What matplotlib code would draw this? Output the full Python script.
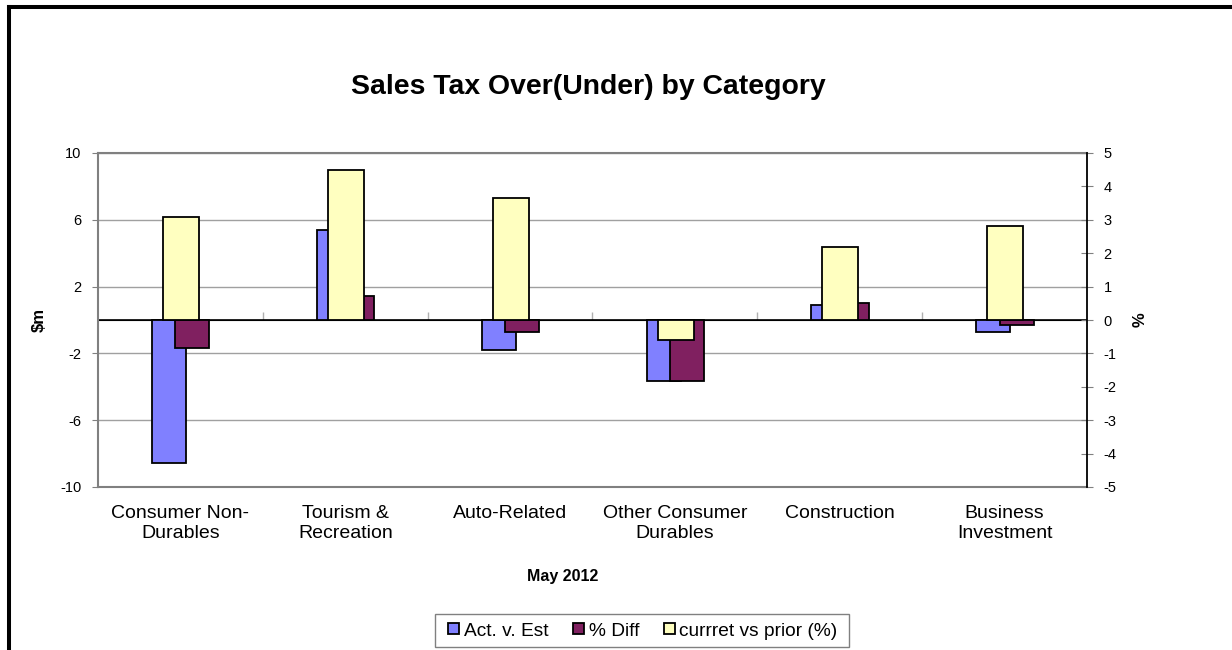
import numpy as np
import matplotlib
matplotlib.use("Agg")
import matplotlib.pyplot as plt
from matplotlib.lines import Line2D
from matplotlib.patches import Rectangle

plt.rcParams['font.family'] = ['Liberation Sans', 'DejaVu Sans']
plt.rcParams['axes.unicode_minus'] = False

categories = ["Consumer Non-\nDurables", "Tourism &\nRecreation", "Auto-Related",
              "Other Consumer\nDurables", "Construction", "Business\nInvestment"]
act_v_est = [-8.55, 5.37, -1.79, -3.63, 0.89, -0.73]      # $m (left axis)
pct_diff = [-1.70, 1.45, -0.73, -3.67, 1.03, -0.27]       # plotted on left axis
curr_vs_prior = [3.08, 4.49, 3.64, -0.60, 2.18, 2.82]     # % (right axis)
series_names = ["Act. v. Est", "% Diff", "currret vs prior (%)"]
left_ticks = [-10, -6, -2, 2, 6, 10]
right_ticks = list(range(-5, 6))

W, H = 1232, 650
fig = plt.figure(figsize=(W / 100, H / 100), dpi=100)

c_blue = '#8080FF'
c_purple = '#802060'
c_yellow = '#FFFFC0'
gray = '#808080'

ax = fig.add_axes([98 / W, 1 - 487 / H, (1087 - 98) / W, (487 - 153) / H])
x = np.arange(len(categories))

ax.bar(x - 0.069, act_v_est, width=0.206, color=c_blue, edgecolor='black',
       linewidth=1.3, zorder=2, label=series_names[0])
ax.bar(x + 0.073, pct_diff, width=0.206, color=c_purple, edgecolor='black',
       linewidth=1.3, zorder=3, label=series_names[1])
ax.set_ylim(-10, 10)
ax.set_xlim(-0.5, len(categories) - 0.5)
ax.set_yticks(left_ticks)
ax.yaxis.grid(True, color='#A0A0A0', linewidth=1.0, zorder=0)
ax.set_axisbelow(True)
ax.axhline(0, color='black', linewidth=1.2, zorder=1.5)

ax.set_xticks(x)
ax.set_xticklabels(categories, fontsize=14, linespacing=1.25)
ax.tick_params(axis='x', length=0, pad=13)
ax.tick_params(axis='y', direction='out', length=4, color=gray, labelsize=10.5, pad=8)
for s in ['left', 'top', 'bottom']:
    ax.spines[s].set_color(gray)
    ax.spines[s].set_linewidth(1.5)
ax.spines['right'].set_visible(False)

# category boundary ticks on the zero axis
sec = ax.secondary_xaxis(0.5)
sec.set_xticks(np.arange(len(categories) - 1) + 0.5)
sec.set_xticklabels([])
sec.tick_params(direction='out', length=6, color='#B0B0B0', width=1)
sec.spines['bottom'].set_visible(False)

ax2 = ax.twinx()
ax2.bar(x + 0.004, curr_vs_prior, width=0.218, color=c_yellow, edgecolor='black',
        linewidth=1.3, zorder=2, label=series_names[2])
ax2.set_ylim(-5, 5)
ax2.set_yticks(right_ticks)
ax2.tick_params(axis='y', direction='inout', length=8, color=gray, labelsize=10.5, pad=8)
for s in ['left', 'top', 'bottom']:
    ax2.spines[s].set_visible(False)
ax2.spines['right'].set_color('black')
ax2.spines['right'].set_linewidth(1.3)

fig.text(588 / W, 1 - 87 / H, "Sales Tax Over(Under) by Category", fontsize=20.4,
         fontweight='bold', ha='center', va='center')
fig.text(39 / W, 1 - 320 / H, "$m", fontsize=12, fontweight='bold', rotation=90,
         ha='center', va='center')
fig.text(1140 / W, 1 - 320 / H, "%", fontsize=12, fontweight='bold', rotation=90,
         ha='center', va='center')
fig.text(563 / W, 1 - 577 / H, "May 2012", fontsize=11.5, fontweight='bold',
         ha='center', va='center')

h1, l1 = ax.get_legend_handles_labels()
h2, l2 = ax2.get_legend_handles_labels()
leg = fig.legend(h1 + h2, l1 + l2, loc='center', bbox_to_anchor=(643 / W, 1 - 631 / H),
                 ncol=3, fontsize=13.8, frameon=False,
                 handlelength=0.55, handleheight=0.55, handletextpad=0.25,
                 columnspacing=1.3, borderpad=0.45)
# legend box
fig.add_artist(Rectangle((435 / W, 1 - 647 / H), (849 - 435) / W, (647 - 614) / H,
                         transform=fig.transFigure, fill=False, edgecolor=gray,
                         linewidth=1.0))

# outer frame (top and left edges visible)
fig.add_artist(Line2D([9 / W, 1.0], [1 - 7 / H, 1 - 7 / H], color='black',
                      linewidth=2.9, transform=fig.transFigure))
fig.add_artist(Line2D([9 / W, 9 / W], [1 - 7 / H, 0.0], color='black',
                      linewidth=2.9, transform=fig.transFigure))

fig.savefig("out.png", dpi=100)
